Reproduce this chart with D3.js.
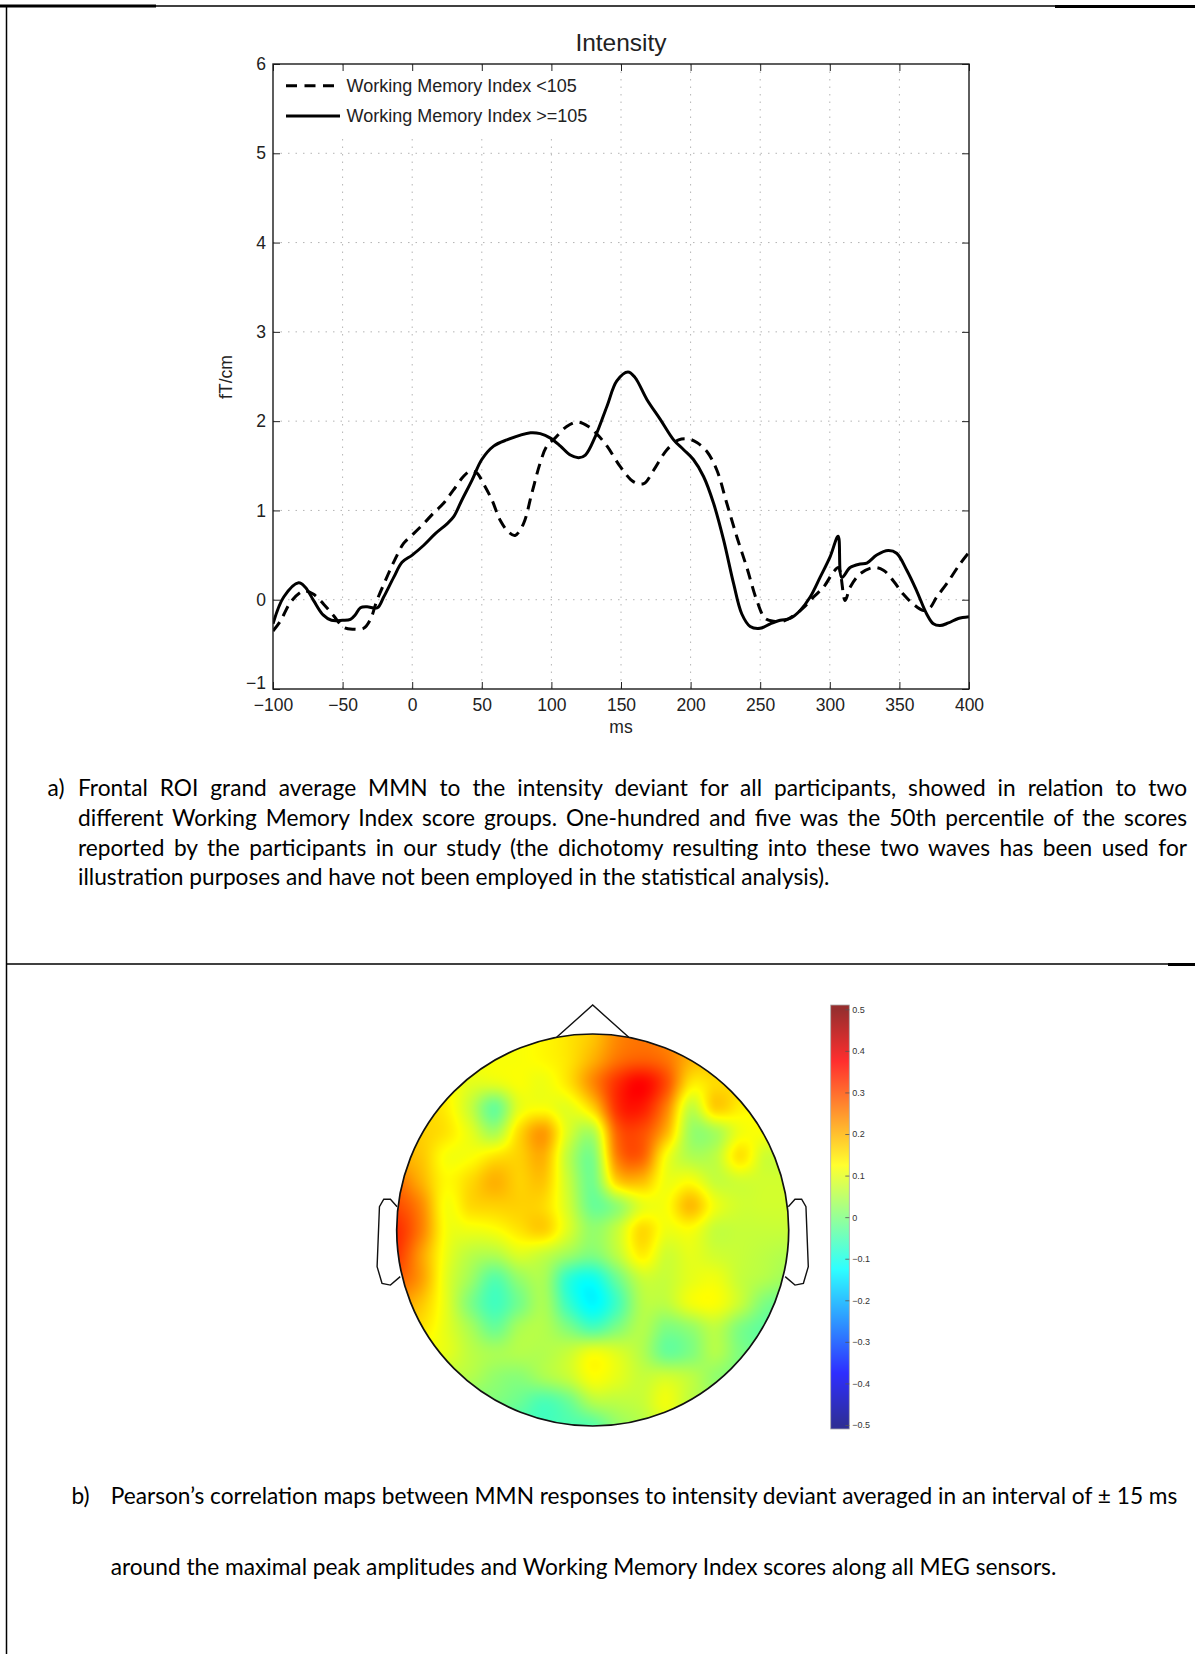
<!DOCTYPE html>
<html><head><meta charset="utf-8">
<script src="https://cdn.jsdelivr.net/npm/d3@7"></script>
<style>
html,body{margin:0;padding:0;background:#fff;}
svg{display:block;}
</style></head>
<body>
<svg id="fig" width="1195" height="1654"></svg>
<script>
// ---------------- DATA ----------------
const seriesNames = ["Working Memory Index <105", "Working Memory Index >=105"];
const lowTime = [-100,-94.7,-87.5,-80.4,-77,-70.8,-63.6,-56.4,-49.2,-42.1,-34.9,-30,-25.4,-19.4,-13.3,-6.2,1,8.1,15.3,22.5,29.7,36.8,41.6,46.4,51.2,57.2,63.2,69.1,73.9,79.9,85.9,91.9,96.7,102.6,111,119,126.6,133,140,149.5,159.1,166.3,173.4,183,191.4,198.6,204.5,211.7,218.9,226,233.3,240.4,247.6,253.6,259.6,266.7,273.9,281.1,288.3,295.5,302.6,306.2,311,314.6,321.8,331.3,338.5,345.7,352.9,360,367.2,372,376.8,384,393.5,400];
const lowValues = [-0.35,-0.24,-0.03,0.08,0.1,0.06,-0.05,-0.18,-0.31,-0.33,-0.32,-0.22,-0.01,0.21,0.42,0.63,0.74,0.85,0.97,1.08,1.23,1.38,1.44,1.42,1.30,1.12,0.89,0.76,0.72,0.85,1.19,1.53,1.72,1.81,1.94,1.99,1.94,1.85,1.72,1.49,1.32,1.30,1.45,1.68,1.79,1.80,1.76,1.66,1.45,1.08,0.70,0.36,-0.01,-0.21,-0.24,-0.24,-0.18,-0.09,0.03,0.14,0.31,0.36,-0.01,0.14,0.29,0.36,0.33,0.21,0.06,-0.05,-0.12,-0.09,0.03,0.18,0.40,0.53];
const highTime = [-100,-92.3,-81.6,-76.8,-70.8,-64,-58,-50,-44.4,-41,-37.2,-32.5,-25,-20.5,-13.3,-7.3,0,8.3,16.6,25,29.8,35.8,43,50,58.5,68,85,92,99.3,106.5,113.6,119.6,124.4,131.6,140,147,155,160,168.7,178.2,187.8,195,202,209.3,216.5,223.7,230.9,236.8,242.8,250,257.2,264.4,271.5,278.7,285.9,293,300.2,306,308.6,314.6,321.8,326.6,333.7,342,348,355.3,362.4,369.6,374.4,379.2,385.2,392.3,400];
const highValues = [-0.27,0.03,0.19,0.14,-0.01,-0.17,-0.23,-0.23,-0.22,-0.17,-0.09,-0.08,-0.09,0.03,0.25,0.42,0.5,0.61,0.74,0.85,0.93,1.12,1.34,1.57,1.72,1.79,1.87,1.86,1.81,1.72,1.62,1.59,1.62,1.83,2.17,2.45,2.55,2.49,2.24,2.02,1.79,1.68,1.57,1.38,1.08,0.67,0.18,-0.16,-0.30,-0.32,-0.27,-0.23,-0.21,-0.12,0.03,0.25,0.48,0.71,0.25,0.36,0.40,0.41,0.50,0.55,0.52,0.33,0.10,-0.16,-0.27,-0.29,-0.26,-0.21,-0.19];
const xTicks = [-100,-50,0,50,100,150,200,250,300,350,400];
const yTicks = [-1,0,1,2,3,4,5,6];
const colorbarTicks = [0.5,0.4,0.3,0.2,0.1,0,-0.1,-0.2,-0.3,-0.4,-0.5];
// correlation values on a regular 17x17 grid over the head (rows: front -> back, cols: left -> right)
const topoGrid = [
 [0.12,0.12,0.12,0.12,0.12,0.12,0.13,0.15,0.18,0.24,0.26,0.24,0.2,0.18,0.16,0.15,0.15],
 [0.14,0.14,0.13,0.12,0.12,0.12,0.13,0.15,0.2,0.26,0.28,0.26,0.2,0.18,0.16,0.15,0.15],
 [0.15,0.15,0.13,0.1,0.1,0.12,0.11,0.15,0.24,0.33,0.37,0.3,0.15,0.16,0.16,0.15,0.15],
 [0.16,0.16,0.14,0.07,-0.02,0.1,0.12,0.1,0.17,0.33,0.35,0.25,0.07,0.17,0.14,0.12,0.12],
 [0.18,0.17,0.15,0.1,0.04,0.16,0.22,0.09,0.05,0.28,0.3,0.2,0.03,0.04,0.11,0.12,0.12],
 [0.2,0.18,0.12,0.12,0.15,0.17,0.2,0.06,0.0,0.25,0.28,0.12,0.05,0.06,0.15,0.08,0.08],
 [0.26,0.2,0.13,0.16,0.2,0.17,0.18,0.07,-0.01,0.17,0.19,0.11,0.12,0.07,0.08,0.08,0.08],
 [0.3,0.24,0.12,0.16,0.17,0.17,0.16,0.08,-0.02,0.02,0.1,0.12,0.19,0.11,0.08,0.08,0.08],
 [0.33,0.25,0.12,0.11,0.12,0.15,0.17,0.09,0.02,0.07,0.16,0.11,0.12,0.07,0.07,0.07,0.07],
 [0.32,0.22,0.11,0.06,0.05,0.09,0.07,0.03,0.0,0.06,0.14,0.08,0.1,0.08,0.07,0.06,0.05],
 [0.28,0.22,0.1,0.03,-0.04,0.02,0.04,-0.08,-0.11,-0.02,0.07,0.07,0.1,0.11,0.07,0.05,0.03],
 [0.22,0.18,0.1,0.0,-0.06,-0.01,0.04,-0.07,-0.13,-0.06,0.05,0.06,0.11,0.12,0.07,0.0,-0.02],
 [0.16,0.15,0.1,0.04,-0.02,0.04,0.05,0.0,-0.05,0.0,0.05,0.0,0.02,0.06,0.0,-0.03,-0.03],
 [0.12,0.11,0.1,0.06,0.04,0.05,0.05,0.07,0.11,0.09,0.05,-0.02,0.0,0.05,0.0,-0.02,-0.02],
 [0.08,0.07,0.06,0.05,0.02,0.01,0.04,0.07,0.12,0.1,0.07,0.08,0.06,0.02,0.0,0.0,0.0],
 [0.02,0.02,0.01,0.0,0.0,-0.02,-0.05,-0.02,0.05,0.06,0.07,0.11,0.06,0.03,0.02,0.02,0.02],
 [-0.02,-0.02,-0.02,-0.03,-0.04,-0.05,-0.06,-0.05,-0.04,0.02,0.05,0.08,0.05,0.03,0.02,0.02,0.02]
];
const chartTitle = "Intensity";
const xLabel = "ms";
const yLabel = "fT/cm";
const captionA = [
 "Frontal ROI grand average MMN to the intensity deviant for all participants, showed in relation to two",
 "different Working Memory Index score groups. One-hundred and five was the 50th percentile of the scores",
 "reported by the participants in our study (the dichotomy resulting into these two waves has been used for",
 "illustration purposes and have not been employed in the statistical analysis)."
];
const captionB = [
 "Pearson\u2019s correlation maps between MMN responses to intensity deviant averaged in an interval of \u00b1 15 ms",
 "around the maximal peak amplitudes and Working Memory Index scores along all MEG sensors."
];

// ---------------- DRAWING ----------------
const W = 1195, H = 1654;
const svg = d3.select("#fig");
svg.append("rect").attr("width", W).attr("height", H).attr("fill", "#fff");
const defs = svg.append("defs");
const axisFont = "'Liberation Sans', Arial, Helvetica, sans-serif";
const capFont = "Lato, 'Open Sans', sans-serif";

// frame lines
const frame = svg.append("g").attr("stroke", "#000").attr("fill", "none");
frame.append("line").attr("x1", 6.5).attr("x2", 6.5).attr("y1", 5).attr("y2", H).attr("stroke-width", 1.5);
frame.append("line").attr("x1", 6).attr("x2", 1055).attr("y1", 6).attr("y2", 6).attr("stroke-width", 1.5);
frame.append("line").attr("x1", 0).attr("x2", 156).attr("y1", 6).attr("y2", 6).attr("stroke-width", 3);
frame.append("line").attr("x1", 1055).attr("x2", W).attr("y1", 6.5).attr("y2", 6.5).attr("stroke-width", 3);
frame.append("line").attr("x1", 6).attr("x2", 1168).attr("y1", 964).attr("y2", 964).attr("stroke-width", 1.5);
frame.append("line").attr("x1", 1168).attr("x2", W).attr("y1", 964.5).attr("y2", 964.5).attr("stroke-width", 3);

// ---- line chart ----
const M = {left: 273, right: 969, top: 64, bottom: 689};
const x = d3.scaleLinear().domain([-100, 400]).range([M.left, M.right]);
const y = d3.scaleLinear().domain([-1, 6]).range([M.bottom, M.top]);

const grid = svg.append("g").attr("stroke", "#b4b4b4").attr("stroke-width", 1).attr("stroke-dasharray", "1.5,6");
grid.selectAll("line.v").data(xTicks.slice(1, -1)).join("line")
  .attr("x1", d => x(d)).attr("x2", d => x(d)).attr("y1", M.top).attr("y2", M.bottom);
grid.selectAll("line.h").data(yTicks.slice(1, -1)).join("line")
  .attr("x1", M.left).attr("x2", M.right).attr("y1", d => y(d)).attr("y2", d => y(d));

// legend background (hides the grid like MATLAB's legend)
svg.append("rect").attr("x", M.left + 2).attr("y", M.top + 2).attr("width", 325).attr("height", 69).attr("fill", "#fff");

function styleAxis(g, showText) {
  g.select(".domain").remove();
  g.selectAll(".tick line").attr("stroke", "#222").attr("stroke-width", 1);
  g.selectAll(".tick text").attr("font-family", axisFont).attr("font-size", 17.5).attr("fill", "#222");
  if (!showText) g.selectAll(".tick text").remove();
  return g;
}
const fmt = d3.format("d");
const leftAxis = styleAxis(svg.append("g").attr("transform", `translate(${M.left},0)`)
  .call(d3.axisLeft(y).tickValues(yTicks).tickSize(-7).tickPadding(7).tickFormat(fmt)), true);
// MATLAB draws the lowest label slightly raised
leftAxis.selectAll(".tick text").filter(d => d === yTicks[0]).attr("dy", "-0.05em");
styleAxis(svg.append("g").attr("transform", `translate(${M.right},0)`)
  .call(d3.axisRight(y).tickValues(yTicks).tickSize(-7)), false);
styleAxis(svg.append("g").attr("transform", `translate(0,${M.bottom})`)
  .call(d3.axisBottom(x).tickValues(xTicks).tickSize(-7).tickPadding(10).tickFormat(fmt)), true);
styleAxis(svg.append("g").attr("transform", `translate(0,${M.top})`)
  .call(d3.axisTop(x).tickValues(xTicks).tickSize(-7)), false);

defs.append("clipPath").attr("id", "plotClip").append("rect")
  .attr("x", M.left).attr("y", M.top).attr("width", M.right - M.left).attr("height", M.bottom - M.top);

const line = d3.line().x(d => x(d[0])).y(d => y(d[1])).curve(d3.curveCatmullRom.alpha(0.5));
const lowData = d3.zip(lowTime, lowValues);
const highData = d3.zip(highTime, highValues);
const plot = svg.append("g").attr("clip-path", "url(#plotClip)");
plot.append("path").datum(lowData).attr("d", line).attr("fill", "none").attr("stroke", "#000")
  .attr("stroke-width", 3).attr("stroke-dasharray", "11,7");
plot.append("path").datum(highData).attr("d", line).attr("fill", "none").attr("stroke", "#000")
  .attr("stroke-width", 3);

svg.append("rect").attr("x", M.left).attr("y", M.top).attr("width", M.right - M.left).attr("height", M.bottom - M.top)
  .attr("fill", "none").attr("stroke", "#1a1a1a").attr("stroke-width", 1.4);

// legend
const leg = svg.append("g");
[0, 1].forEach(i => {
  const ly = 85.7 + i * 30.3;
  leg.append("line").attr("x1", 286).attr("x2", 340).attr("y1", ly).attr("y2", ly)
    .attr("stroke", "#000").attr("stroke-width", 3).attr("stroke-dasharray", i === 0 ? "11,7.5" : null);
  leg.append("text").attr("x", 346.5).attr("y", ly + 6.3).attr("font-family", axisFont).attr("font-size", 18)
    .attr("fill", "#222").text(seriesNames[i]);
});

// titles
svg.append("text").attr("x", (M.left + M.right) / 2).attr("y", 51).attr("text-anchor", "middle")
  .attr("font-family", axisFont).attr("font-size", 24.5).attr("fill", "#222").text(chartTitle);
svg.append("text").attr("x", (M.left + M.right) / 2).attr("y", 733).attr("text-anchor", "middle")
  .attr("font-family", axisFont).attr("font-size", 17.5).attr("fill", "#222").text(xLabel);
svg.append("text").attr("transform", `translate(232,377) rotate(-90)`).attr("text-anchor", "middle")
  .attr("font-family", axisFont).attr("font-size", 17.5).attr("fill", "#222").text(yLabel);

// ---- captions ----
function caption(lines, labelX, label, textX, baseline, step, justifyRight) {
  const g = svg.append("g").attr("font-family", capFont).attr("fill", "#000");
  g.append("text").attr("x", labelX).attr("y", baseline).attr("font-size", capSize).text(label);
  lines.forEach((s, i) => {
    const t = g.append("text").attr("x", textX).attr("y", baseline + i * step).attr("font-size", capSize).text(s);
    if (justifyRight && i < lines.length - 1) {
      const natural = t.node().getComputedTextLength();
      const spaces = (s.match(/ /g) || []).length;
      t.attr("word-spacing", (justifyRight - textX - natural) / spaces);
    }
  });
}
// choose caption size so that the first line of caption b has its natural width
const probe = svg.append("text").attr("font-family", capFont).attr("font-size", 20).text(captionB[0]);
const capSize = 20 * (1178 - 110.7) / probe.node().getComputedTextLength();
probe.remove();
caption(captionA, 47.5, "a)", 78, 796, 29.8, 1187);
caption(captionB, 71.5, "b)", 110.7, 1504, 70.5, null);

// ---- topographic map ----
const cx = 592.7, cy = 1230, R = 196;
const hx = d3.scaleLinear().domain([-1, 1]).range([cx - R, cx + R]);
const hy = d3.scaleLinear().domain([-1, 1]).range([cy - R, cy + R]);
const n = topoGrid.length;
const gi = d3.scaleLinear().domain([-1, 1]).range([0, n - 1]);
function jet(t) {
  const c = v => Math.max(0, Math.min(1, v));
  return d3.rgb(255 * c(1.5 - Math.abs(4 * t - 3)), 255 * c(1.5 - Math.abs(4 * t - 2)), 255 * c(1.5 - Math.abs(4 * t - 1))).toString();
}
const color = d3.scaleSequential(jet).domain([-0.5, 0.5]).clamp(true);
function cr(p0, p1, p2, p3, t) {
  return p1 + 0.5 * t * (p2 - p0 + t * (2 * p0 - 5 * p1 + 4 * p2 - p3 + t * (3 * (p1 - p2) + p3 - p0)));
}
const ci = k => Math.max(0, Math.min(n - 1, k));
function sample(gx, gy) {
  const ix = Math.floor(gx), iy = Math.floor(gy), fx = gx - ix, fy = gy - iy;
  const r = [];
  for (let m = -1; m <= 2; m++) {
    const row = topoGrid[ci(iy + m)];
    r.push(cr(row[ci(ix - 1)], row[ci(ix)], row[ci(ix + 1)], row[ci(ix + 2)], fx));
  }
  return cr(r[0], r[1], r[2], r[3], fy);
}
const size = Math.ceil(2 * R);
const canvas = document.createElement("canvas");
canvas.width = size; canvas.height = size;
const ctx = canvas.getContext("2d");
const img = ctx.createImageData(size, size);
for (let j = 0; j < size; j++) {
  for (let i = 0; i < size; i++) {
    const u = hx.invert(cx - R + i + 0.5), v = hy.invert(cy - R + j + 0.5);
    const val = sample(gi(u), gi(v));
    const c = d3.rgb(color(val));
    const k = (j * size + i) * 4;
    img.data[k] = c.r; img.data[k + 1] = c.g; img.data[k + 2] = c.b; img.data[k + 3] = 255;
  }
}
ctx.putImageData(img, 0, 0);
defs.append("clipPath").attr("id", "headClip").append("circle").attr("cx", cx).attr("cy", cy).attr("r", R);
svg.append("image").attr("href", canvas.toDataURL()).attr("x", cx - R).attr("y", cy - R)
  .attr("width", size).attr("height", size).attr("preserveAspectRatio", "none").attr("clip-path", "url(#headClip)");
svg.append("circle").attr("cx", cx).attr("cy", cy).attr("r", R).attr("fill", "none").attr("stroke", "#111").attr("stroke-width", 1.7);
const outline = d3.line().x(d => hx(d[0])).y(d => hy(d[1]));
const nose = [[-0.184, -0.983], [0, -1.148], [0.184, -0.983]];
const ear = [[0.998, -0.119], [1.032, -0.157], [1.066, -0.157], [1.088, -0.119], [1.100, 0.187], [1.075, 0.272], [1.032, 0.281], [0.982, 0.238]];
[nose, ear, ear.map(p => [-p[0], p[1]])].forEach(p => {
  svg.append("path").attr("d", outline(p)).attr("fill", "none").attr("stroke", "#111").attr("stroke-width", 1.4);
});

// ---- colorbar ----
const cb = d3.scaleLinear().domain([-0.5, 0.5]).range([1425, 1009.3]);
const grad = defs.append("linearGradient").attr("id", "jetGrad").attr("gradientUnits", "userSpaceOnUse")
  .attr("x1", 0).attr("x2", 0).attr("y1", cb(-0.5)).attr("y2", cb(0.5));
[0, 0.125, 0.375, 0.625, 0.875, 1].forEach(t => grad.append("stop").attr("offset", t).attr("stop-color", jet(t)));
svg.append("rect").attr("x", 830.7).attr("y", 1005).attr("width", 18.6).attr("height", 424)
  .attr("fill", "url(#jetGrad)").attr("fill-opacity", 0.82).attr("stroke", "#aaa").attr("stroke-width", 0.8);
const cbg = svg.append("g").attr("transform", "translate(849.3,0)")
  .call(d3.axisRight(cb).tickValues(colorbarTicks).tickSize(-4).tickPadding(3).tickFormat(d3.format("")));
cbg.select(".domain").remove();
cbg.selectAll(".tick line").attr("stroke", "#555").attr("stroke-width", 0.8);
cbg.selectAll(".tick text").attr("font-family", axisFont).attr("font-size", 9).attr("fill", "#333");
</script>
</body></html>
